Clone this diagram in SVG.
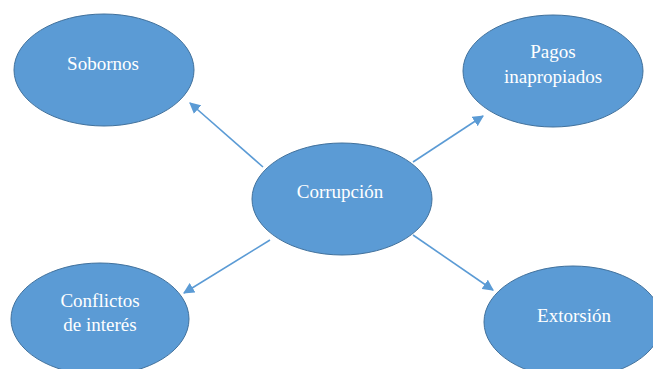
<svg xmlns="http://www.w3.org/2000/svg" width="653" height="369" viewBox="0 0 653 369">
<style>
.node ellipse{fill:#5B9BD5;stroke:#41719C;stroke-width:1}
.node text{fill:#fff;font-family:'Liberation Serif','Times New Roman','DejaVu Serif',serif;font-size:19px;text-anchor:middle}
.conn line{stroke:#5B9BD5;stroke-width:1.6;marker-end:url(#ah)}
</style>
<defs>
<marker id="ah" viewBox="0 0 10 10" refX="9" refY="5" markerWidth="7" markerHeight="7" orient="auto" markerUnits="strokeWidth">
<path d="M0,0 L10,5 L0,10 z" fill="#5B9BD5"/>
</marker>
</defs>
<rect width="653" height="369" fill="#fff"/>
<g id="connectors" class="conn">
<line x1="263" y1="167" x2="190" y2="103"/>
<line x1="413" y1="162" x2="483" y2="116"/>
<line x1="270" y1="240" x2="184" y2="293"/>
<line x1="413" y1="235" x2="493" y2="290"/>
</g>
<g id="sobornos" class="node">
<ellipse cx="104" cy="70" rx="90" ry="56"/>
<text x="103" y="70">Sobornos</text>
</g>
<g id="pagos" class="node">
<ellipse cx="553" cy="71" rx="90" ry="56"/>
<text x="553" y="58">Pagos</text>
<text x="553" y="83">inapropiados</text>
</g>
<g id="corrupcion" class="node">
<ellipse cx="342" cy="199" rx="90" ry="56"/>
<text x="340" y="198">Corrupción</text>
</g>
<g id="conflictos" class="node">
<ellipse cx="100" cy="319" rx="89" ry="56"/>
<text x="100" y="307">Conflictos</text>
<text x="100" y="331">de interés</text>
</g>
<g id="extorsion" class="node">
<ellipse cx="573" cy="322" rx="89" ry="56"/>
<text x="574" y="322">Extorsión</text>
</g>
</svg>
